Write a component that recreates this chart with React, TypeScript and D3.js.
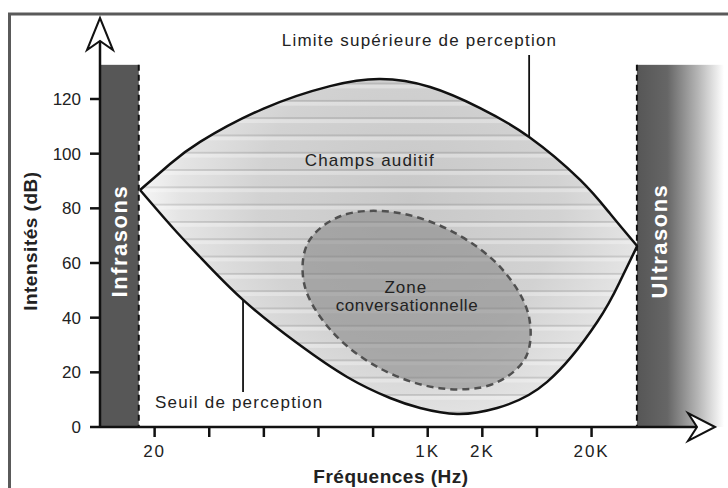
import React from 'react';
import * as d3 from 'd3';

// frequency axis: tick positions (schematic, one step per tick) and their labels
const freqTicks = [0, 1, 2, 3, 4, 5, 6, 7, 8];
const freqTickLabels = ['20', '', '', '', '', '1K', '2K', '', '20K'];
const dbTicks = [0, 20, 40, 60, 80, 100, 120];

// upper limit of perception
const upperFreq = [-0.267, 0.282, 0.832, 1.985, 3.212, 4.128, 5.044, 5.96, 6.857, 7.791, 8.341, 8.835];
const upperDb = [86.7, 96.2, 104.3, 116.4, 124.7, 127.3, 124.4, 116.7, 106.1, 90.4, 78.0, 66.2];

// threshold of perception
const lowerFreq = [-0.267, 0.337, 0.832, 1.619, 2.608, 3.524, 4.311, 4.861, 5.538, 6.271, 7.187, 8.103, 8.524, 8.835];
const lowerDb = [86.7, 72.8, 62.2, 46.5, 30.7, 18.3, 10.6, 6.95, 4.76, 6.95, 16.5, 38.4, 53.4, 66.2];

// conversational zone outline
const zoneFreq = [6.79, 6.19, 5.22, 4.13, 3.23, 2.74, 2.81, 3.41, 4.38, 5.46, 6.37, 6.85];
const zoneDb = [25.3, 15.7, 14.2, 21.4, 35.3, 52.2, 67.5, 77.2, 78.6, 71.4, 57.6, 40.7];

const infrasonLimit = -0.29;
const ultrasonLimit = 8.83;
const bandTopDb = 132.5;

const W = 728;
const H = 488;

export default function App() {
  const x = d3.scaleLinear().domain([-1, 10.26]).range([100, 715]);
  const y = d3.scaleLinear().domain([0, 120]).range([427, 99]);

  const line = d3
    .line<[number, number]>()
    .x((d) => x(d[0]))
    .y((d) => y(d[1]))
    .curve(d3.curveNatural);

  const upper: [number, number][] = upperFreq.map((f, i) => [f, upperDb[i]]);
  const lower: [number, number][] = lowerFreq.map((f, i) => [f, lowerDb[i]]);
  const zone: [number, number][] = zoneFreq.map((f, i) => [f, zoneDb[i]]);

  const upperPath = line(upper) as string;
  const lowerPath = line(lower) as string;
  const lowerBack = (line(lower.slice().reverse()) as string).replace(/^M/, 'L');
  const fieldPath = upperPath + lowerBack + 'Z';

  const zonePath = d3
    .line<[number, number]>()
    .x((d) => x(d[0]))
    .y((d) => y(d[1]))
    .curve(d3.curveCatmullRomClosed.alpha(0.5))(zone) as string;

  const x0 = x(-1);
  const y0 = y(0);
  const infraX = x(infrasonLimit);
  const ultraX = x(ultrasonLimit);
  const bandTop = y(bandTopDb);

  const font = 'Liberation Sans, Arial, sans-serif';

  return (
    <div style={{ position: 'absolute', left: 0, top: 0 }}>
      <svg width={W} height={H} style={{ display: 'block', background: '#fff' }}>
        <defs>
          <radialGradient id="fieldGrad" gradientUnits="userSpaceOnUse" cx={410} cy={200} r={270}>
            <stop offset="0" stopColor="#c8c8c8" />
            <stop offset="0.55" stopColor="#d2d2d2" />
            <stop offset="0.85" stopColor="#e4e4e4" />
            <stop offset="1" stopColor="#f6f6f6" />
          </radialGradient>
          <pattern id="stripes" patternUnits="userSpaceOnUse" width={W} height={17.3}
            patternTransform="translate(0,13.4)">
            <rect y={0} width={W} height={1.8} fill="#000" opacity={0.12} />
            <rect y={1.8} width={W} height={4} fill="#fff" opacity={0.3} />
          </pattern>
          <linearGradient id="ultraGrad" gradientUnits="userSpaceOnUse" x1={ultraX} x2={724} y1={0} y2={0}>
            <stop offset="0" stopColor="#565656" />
            <stop offset="0.35" stopColor="#666" />
            <stop offset="0.7" stopColor="#b5b5b5" />
            <stop offset="1" stopColor="#fff" />
          </linearGradient>
        </defs>

        {/* frame */}
        <rect x={9.5} y={14} width={740} height={500} fill="#fff" stroke="#5a5a5a" strokeWidth={3} />

        {/* infrasons band */}
        <rect x={x0} y={bandTop} width={infraX - x0} height={y0 - bandTop} fill="#575757" />
        <line x1={infraX} x2={infraX} y1={bandTop} y2={y0} stroke="#111" strokeWidth={2} strokeDasharray="6 4" />
        <text transform={`translate(${(x0 + infraX) / 2 + 8},${y(68)}) rotate(-90)`} textAnchor="middle"
          fontFamily={font} fontWeight="bold" fontSize={22} letterSpacing={1.5} fill="#fff">Infrasons</text>

        {/* ultrasons band */}
        <rect x={ultraX} y={bandTop} width={W - ultraX} height={y0 - bandTop} fill="url(#ultraGrad)" />
        <line x1={ultraX} x2={ultraX} y1={bandTop} y2={y0} stroke="#111" strokeWidth={2} strokeDasharray="6 4" />
        <text transform={`translate(${ultraX + 30},${y(68)}) rotate(-90)`} textAnchor="middle"
          fontFamily={font} fontWeight="bold" fontSize={22} letterSpacing={1.5} fill="#fff">Ultrasons</text>

        {/* auditory field */}
        <path d={fieldPath} fill="url(#fieldGrad)" />
        <path d={fieldPath} fill="url(#stripes)" />
        <path d={zonePath} fill="#7c7c7c" fillOpacity={0.5} stroke="#505050" strokeWidth={2.5} strokeDasharray="7 5" />
        <path d={upperPath} fill="none" stroke="#111" strokeWidth={2.5} />
        <path d={lowerPath} fill="none" stroke="#111" strokeWidth={2.5} />

        {/* annotations */}
        <line x1={x(6.857)} x2={x(6.857)} y1={55} y2={y(106.1)} stroke="#111" strokeWidth={1.8} />
        <text x={x(4.85)} y={46} textAnchor="middle" fontFamily={font} fontSize={17} letterSpacing={1.2} fill="#222">
          Limite supérieure de perception
        </text>
        <line x1={x(1.619)} x2={x(1.619)} y1={y(46.5)} y2={392} stroke="#111" strokeWidth={1.8} />
        <text x={155} y={408} fontFamily={font} fontSize={17} letterSpacing={1.2} fill="#222">
          Seuil de perception
        </text>
        <text x={x(3.94)} y={y(95.4)} textAnchor="middle" fontFamily={font} fontSize={17} letterSpacing={1.2} fill="#222">
          Champs auditif
        </text>
        <text x={x(4.6)} y={y(49)} textAnchor="middle" fontFamily={font} fontSize={17} letterSpacing={1} fill="#222">
          Zone
        </text>
        <text x={x(4.62)} y={y(42.4)} textAnchor="middle" fontFamily={font} fontSize={17} letterSpacing={0.6} fill="#222">
          conversationnelle
        </text>

        {/* y axis */}
        <line x1={x0} x2={x0} y1={y0} y2={41} stroke="#111" strokeWidth={2.5} />
        <path d={`M${x0},18 L${x0 + 13},50 L${x0},41 L${x0 - 13},50 Z`} fill="#fff" stroke="#111" strokeWidth={2} strokeLinejoin="miter" />
        {dbTicks.map((t) => (
          <g key={t}>
            <line x1={x0 - 10} x2={x0} y1={y(t)} y2={y(t)} stroke="#111" strokeWidth={2.5} />
            <text x={81} y={y(t)} dy="0.35em" textAnchor="end" fontFamily={font} fontSize={17} fill="#222">{t}</text>
          </g>
        ))}
        <text transform={`translate(37,${y(68)}) rotate(-90)`} textAnchor="middle" fontFamily={font}
          fontWeight="bold" fontSize={19} letterSpacing={0.5} fill="#222">Intensités (dB)</text>

        {/* x axis */}
        <line x1={x0} x2={697} y1={y0} y2={y0} stroke="#111" strokeWidth={2.5} />
        <path d={`M715,${y0} L688,${y0 - 14} L697,${y0} L688,${y0 + 14} Z`} fill="#fff" stroke="#111" strokeWidth={2} />
        {freqTicks.map((t, i) => (
          <g key={t}>
            <line x1={x(t)} x2={x(t)} y1={y0} y2={y0 + 10} stroke="#111" strokeWidth={2.5} />
            <text x={x(t)} y={457} textAnchor="middle" fontFamily={font} fontSize={17} letterSpacing={2} fill="#222">
              {freqTickLabels[i]}
            </text>
          </g>
        ))}
        <text x={391} y={483} textAnchor="middle" fontFamily={font} fontWeight="bold" fontSize={19}
          letterSpacing={0.5} fill="#222">Fréquences (Hz)</text>
      </svg>
    </div>
  );
}
